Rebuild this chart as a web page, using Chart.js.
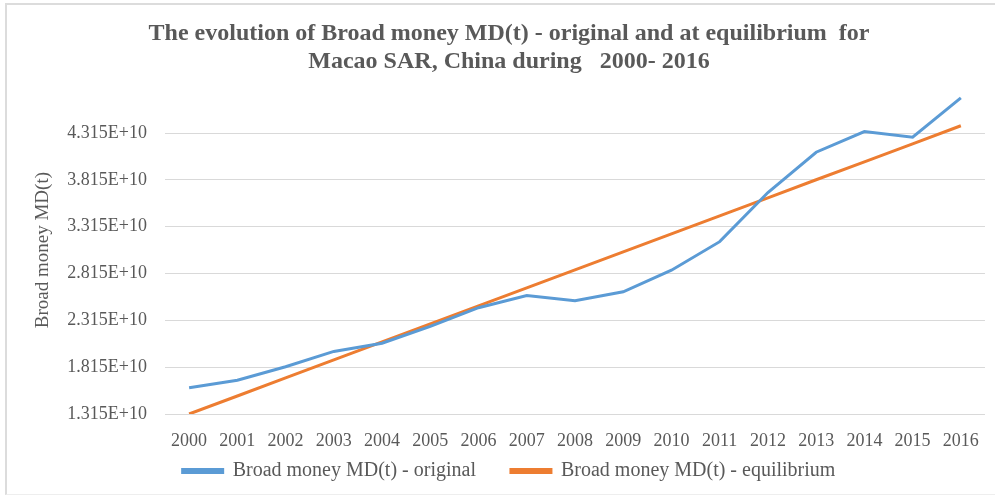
<!DOCTYPE html>
<html>
<head>
<meta charset="utf-8">
<script src="https://cdn.jsdelivr.net/npm/chart.js@4"></script>
<style>
  body { margin: 0; background: #fff; }
  #wrap { position: relative; width: 995px; height: 499px; }
  #frame { position: absolute; left: 5px; top: 3px; width: 990px; height: 492px;
           border-top: 2px solid #dcdcdc; border-left: 2px solid #dcdcdc; border-bottom: 1px solid #eeeeee; box-sizing: border-box; }
  canvas { position: absolute; left: 0; top: 0; }
</style>
</head>
<body>
<div id="wrap">
  <div id="frame"></div>
  <canvas id="moneyChart" width="995" height="499"></canvas>
</div>
<script>
const years = ['2000', '2001', '2002', '2003', '2004', '2005', '2006', '2007', '2008',
  '2009', '2010', '2011', '2012', '2013', '2014', '2015', '2016'];

const original = [1.596e10, 1.675e10, 1.820e10, 1.983e10, 2.070e10, 2.250e10, 2.450e10,
  2.580e10, 2.524e10, 2.620e10, 2.850e10, 3.155e10, 3.680e10, 4.110e10, 4.330e10, 4.270e10, 4.690e10];

const equilibrium = [1.315e10, 1.507e10, 1.700e10, 1.892e10, 2.085e10, 2.277e10, 2.469e10,
  2.662e10, 2.854e10, 3.046e10, 3.239e10, 3.431e10, 3.623e10, 3.816e10, 4.008e10, 4.200e10, 4.393e10];

const yTicks = [1.315e10, 1.815e10, 2.315e10, 2.815e10, 3.315e10, 3.815e10, 4.315e10];

const textColor = '#595959';
const serif = "'Liberation Serif', 'Times New Roman', serif";

const ctx = document.getElementById('moneyChart').getContext('2d');
new Chart(ctx, {
  type: 'line',
  data: {
    labels: years,
    datasets: [
      {
        label: 'Broad money MD(t) - original',
        data: original,
        borderColor: '#5b9bd5',
        backgroundColor: '#5b9bd5',
        borderWidth: 3,
        pointRadius: 0,
        tension: 0
      },
      {
        label: 'Broad money MD(t) - equilibrium',
        data: equilibrium,
        borderColor: '#ed7d31',
        backgroundColor: '#ed7d31',
        borderWidth: 3,
        pointRadius: 0,
        tension: 0
      }
    ]
  },
  options: {
    responsive: false,
    animation: false,
    layout: { padding: { left: 28, right: 5, top: 0, bottom: 8 } },
    plugins: {
      title: {
        display: true,
        text: ['The evolution of Broad money MD(t) - original and at equilibrium  for',
               'Macao SAR, China during   2000- 2016'],
        color: textColor,
        font: { family: serif, size: 24, weight: 'bold', lineHeight: 1.15 },
        padding: { top: 20, bottom: 11 }
      },
      legend: {
        position: 'bottom',
        labels: {
          color: textColor,
          font: { family: serif, size: 20 },
          boxWidth: 40,
          boxHeight: 3,
          padding: 10,
          generateLabels: (chart) => {
            const items = Chart.defaults.plugins.legend.labels.generateLabels(chart);
            items[0].text = items[0].text + '     ';
            return items;
          }
        }
      },
      tooltip: { enabled: false }
    },
    scales: {
      x: {
        offset: true,
        grid: { display: false, drawTicks: false },
        border: { display: false },
        ticks: {
          color: textColor,
          font: { family: serif, size: 18 },
          padding: 16,
          autoSkip: false,
          maxRotation: 0
        },
        afterFit: (scale) => { scale.height = 37; }
      },
      y: {
        min: 1.315e10,
        max: 4.815e10,
        afterBuildTicks: (scale) => {
          scale.ticks = yTicks.map(v => ({ value: v }));
        },
        grid: { color: '#d9d9d9', lineWidth: 1, drawTicks: false },
        border: { display: false },
        ticks: {
          color: textColor,
          font: { family: serif, size: 18 },
          padding: 18,
          callback: (v) => (v / 1e10).toFixed(3) + 'E+10'
        },
        title: {
          display: true,
          text: 'Broad money MD(t)',
          color: textColor,
          font: { family: serif, size: 19 },
          padding: { top: 4, bottom: 0 }
        },
        afterFit: (scale) => { scale.width = 137; }
      }
    }
  }
});
</script>
</body>
</html>
